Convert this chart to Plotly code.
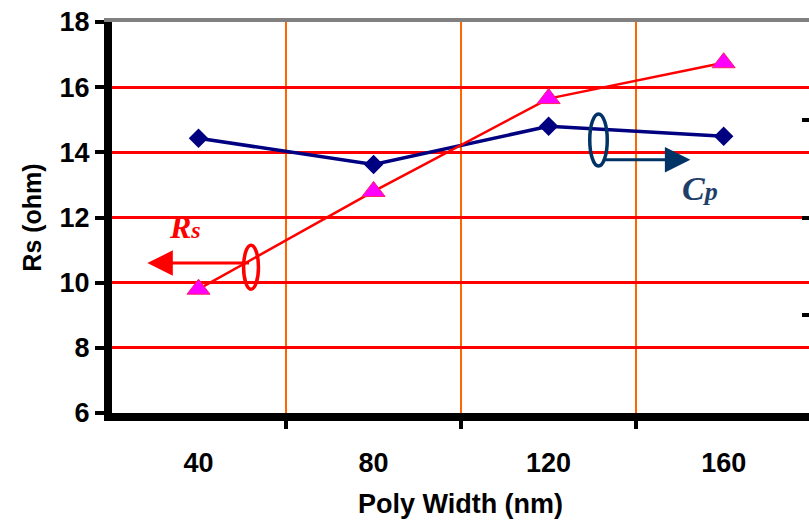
import plotly.graph_objects as go

# Data
poly_width = [40, 80, 120, 160]
rs_values = [9.8, 12.8, 15.65, 16.75]
cp_values = [14.43, 13.63, 14.8, 14.49]   # plotted against left scale position
x_tick_vals = [40, 80, 120, 160]
x_grid_vals = [60, 100, 140]
y_tick_vals = [6, 8, 10, 12, 14, 16, 18]

tick_font = dict(family="Liberation Sans, Arial", size=27, color="black", weight="bold")

fig = go.Figure()
fig.add_trace(go.Scatter(
    x=poly_width, y=cp_values, mode="lines+markers",
    line=dict(color="#000080", width=3.5),
    marker=dict(symbol="diamond", size=15, color="#000080"),
    showlegend=False, cliponaxis=False))
fig.add_trace(go.Scatter(
    x=poly_width, y=rs_values, mode="lines+markers",
    line=dict(color="#FF0000", width=2.5),
    marker=dict(symbol="triangle-up", size=20, color="#FF00FF",
                line=dict(color="#FF2060", width=1)),
    showlegend=False, cliponaxis=False))

# Right axis ticks (Cp axis, labels cropped out of view)
fig.add_trace(go.Scatter(x=[None], y=[None], xaxis="x2", yaxis="y2", showlegend=False))

fig.update_layout(
    width=809, height=523,
    margin=dict(l=112, r=0, t=22, b=110),
    paper_bgcolor="white", plot_bgcolor="white",
    xaxis=dict(
        range=[20.23, 179.5], tickvals=x_tick_vals, ticktext=[str(v) for v in x_tick_vals],
        showgrid=False, zeroline=False, ticks="",
        showline=True, linecolor="black", linewidth=8,
        tickfont=tick_font, ticklabelstandoff=19,
        minor=dict(tickvals=x_grid_vals, showgrid=True, gridcolor="#FF6600", gridwidth=2,
                   ticks="outside", ticklen=8, tickwidth=4, tickcolor="black"),
        title=dict(text="Poly Width (nm)", font=tick_font, standoff=20),
    ),
    yaxis=dict(
        range=[6, 18], tickvals=y_tick_vals, showgrid=True, gridcolor="#FF0000", gridwidth=2.5,
        zeroline=False, showline=True, linecolor="black", linewidth=8,
        ticks="outside", ticklen=9, tickwidth=4, tickcolor="black",
        tickfont=tick_font,
        title=dict(text="Rs (ohm)", font=dict(family="Liberation Sans, Arial", size=25,
                                               color="black", weight="bold"), standoff=14),
    ),
    xaxis2=dict(overlaying="x", side="top", range=[20.23, 179.5], showgrid=False,
                zeroline=False, showticklabels=False, ticks="",
                showline=True, linecolor="#808080", linewidth=4),
    yaxis2=dict(overlaying="y", side="right", range=[0, 4], dtick=1, showgrid=False,
                zeroline=False, showticklabels=False, showline=False,
                ticks="inside", ticklen=7, tickwidth=4, tickcolor="black"),
)

# Ellipses and arrows (annotation decorations)
fig.add_shape(type="circle", xref="x", yref="y", x0=50.3, x1=53.7, y0=9.8, y1=11.15,
              line=dict(color="#FF0000", width=3.5))
fig.add_shape(type="circle", xref="x", yref="y", x0=129.4, x1=133.4, y0=13.58, y1=15.18,
              line=dict(color="#003366", width=3.5))

fig.add_annotation(x=28.3, y=10.6, ax=51.9, ay=10.6, xref="x", yref="y",
                   axref="x", ayref="y", text="", showarrow=True,
                   arrowhead=2, arrowsize=1.7, arrowwidth=3, arrowcolor="#FF0000")
fig.add_annotation(x=152.4, y=13.77, ax=132.2, ay=13.77, xref="x", yref="y",
                   axref="x", ayref="y", text="", showarrow=True,
                   arrowhead=2, arrowsize=1.7, arrowwidth=3, arrowcolor="#003366")
fig.add_annotation(x=36.9, y=11.7, xref="x", yref="y", text="<b><i>R<span style='font-size:24px'>s</span></i></b>",
                   showarrow=False,
                   font=dict(family="Liberation Serif, Times New Roman", size=32, color="#FF0000"))
fig.add_annotation(x=154.6, y=12.9, xref="x", yref="y", text="<b><i>C<span style='font-size:26px'>p</span></i></b>",
                   showarrow=False,
                   font=dict(family="Liberation Serif, Times New Roman", size=34, color="#1F3F6A"))

fig.write_html("out.html")
